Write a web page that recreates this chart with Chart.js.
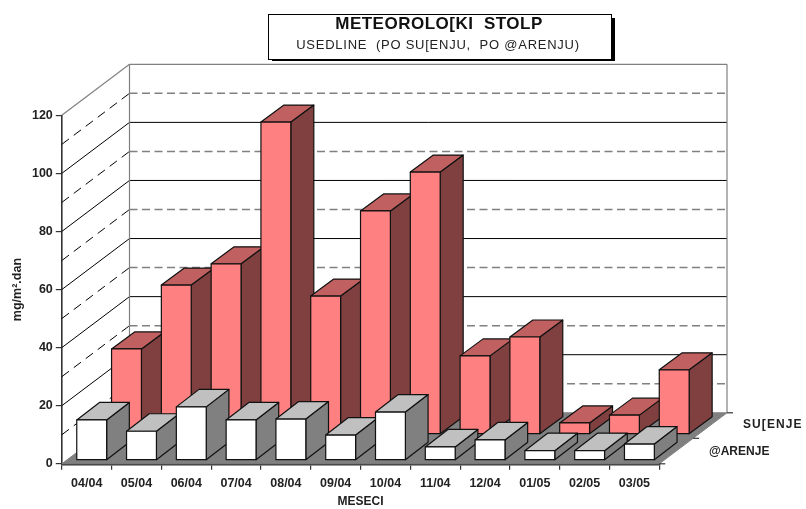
<!DOCTYPE html>
<html>
<head>
<meta charset="utf-8">
<title>Meteorološki stolp</title>
<script src="https://cdn.jsdelivr.net/npm/chart.js@4/dist/chart.umd.min.js"></script>
<style>
  html, body { margin: 0; padding: 0; background: #fff; }
  canvas { display: block; }
</style>
</head>
<body>
<canvas id="graf" width="806" height="509"></canvas>
<script>
// Podatki
const meseci = ['04/04', '05/04', '06/04', '07/04', '08/04', '09/04', '10/04', '11/04', '12/04', '01/05', '02/05', '03/05'];
const zarenje = [13.9, 10, 18.4, 13.9, 14.2, 8.7, 16.6, 4.6, 7, 3.3, 3.3, 5.6];
const susenje = [29.4, 51.4, 58.7, 107.5, 47.6, 76.9, 90.3, 27, 33.5, 3.9, 6.6, 22.2];
const vrste = ['@ARENJE', 'SU[ENJE'];
const naslov = 'METEOROLO[KI  STOLP';
const podnaslov = 'USEDLINE  (PO SU[ENJU,  PO @ARENJU)';

// Globina 3D pogleda
const GLOBINA_X = 67.7;
const GLOBINA_Y = 51;
const PISAVA = "'Liberation Sans', Arial, sans-serif";

// Za vsako vrsto: zamik stolpca v globino in barve ploskev
const stolpci3d = [
    { zx: 5, zy: 3.5, dx: 22.7, dy: 17.5, spredaj: '#ffffff', vrh: '#c0c0c0', bok: '#808080' },
    { zx: 39.8, zy: 29.5, dx: 23, dy: 17, spredaj: '#ff8080', vrh: '#c06060', bok: '#804040' }
];

function lik(ctx, tocke, polnilo) {
    ctx.beginPath();
    tocke.forEach((t, i) => i ? ctx.lineTo(t[0], t[1]) : ctx.moveTo(t[0], t[1]));
    ctx.closePath();
    if (polnilo) {
        ctx.fillStyle = polnilo;
        ctx.fill();
    }
    ctx.stroke();
}

function crta(ctx, x1, y1, x2, y2, barva, debelina, crtkano) {
    ctx.save();
    ctx.strokeStyle = barva;
    ctx.lineWidth = debelina;
    ctx.setLineDash(crtkano || []);
    ctx.beginPath();
    ctx.moveTo(x1, y1);
    ctx.lineTo(x2, y2);
    ctx.stroke();
    ctx.restore();
}

// Stene, tla, oznake globine in naslov
const ozadje3d = {
    id: 'ozadje3d',
    beforeDatasetsDraw(chart) {
        const ctx = chart.ctx;
        const a = chart.chartArea;
        const y = chart.scales.y;
        const levoZ = a.left + GLOBINA_X;
        const desnoZ = a.right + GLOBINA_X;

        // tla
        ctx.save();
        ctx.strokeStyle = '#808080';
        ctx.lineWidth = 1;
        lik(ctx, [[a.left, a.bottom], [a.right, a.bottom], [desnoZ, a.bottom - GLOBINA_Y], [levoZ, a.bottom - GLOBINA_Y]], '#808080');
        ctx.restore();

        // mreza: polne crte na oznakah, crtkane vmes
        const oznake = y.ticks.map(t => t.value);
        oznake.forEach((v, i) => {
            const py = y.getPixelForValue(v);
            if (i > 0 && i < oznake.length - 1) {
                crta(ctx, a.left, py, levoZ, py - GLOBINA_Y, '#000', 1);
                crta(ctx, levoZ, py - GLOBINA_Y, desnoZ, py - GLOBINA_Y, '#000', 1);
            }
            if (i < oznake.length - 1) {
                const sr = y.getPixelForValue((v + oznake[i + 1]) / 2);
                crta(ctx, a.left, sr, levoZ, sr - GLOBINA_Y, '#000', 1, [9, 6]);
                crta(ctx, levoZ, sr - GLOBINA_Y, desnoZ, sr - GLOBINA_Y, '#808080', 1.5, [8, 4.5]);
            }
        });

        // robovi sten
        crta(ctx, a.left, a.top, levoZ, a.top - GLOBINA_Y, '#808080', 1.2);
        crta(ctx, levoZ, a.top - GLOBINA_Y, desnoZ, a.top - GLOBINA_Y, '#808080', 1.2);
        crta(ctx, levoZ, a.top - GLOBINA_Y, levoZ, a.bottom - GLOBINA_Y, '#808080', 1.2);
        crta(ctx, desnoZ, a.top - GLOBINA_Y, desnoZ, a.bottom - GLOBINA_Y, '#808080', 1.2);

        // os globine
        crta(ctx, a.right, a.bottom, a.right + 6, a.bottom, '#333', 1.2);
        crta(ctx, a.right + GLOBINA_X / 2, a.bottom - GLOBINA_Y / 2, a.right + GLOBINA_X / 2 + 6, a.bottom - GLOBINA_Y / 2, '#333', 1.2);
        crta(ctx, desnoZ, a.bottom - GLOBINA_Y, desnoZ + 6, a.bottom - GLOBINA_Y, '#333', 1.2);

        ctx.save();
        ctx.fillStyle = '#222';
        ctx.font = 'bold 12px ' + PISAVA;
        ctx.textBaseline = 'middle';
        ctx.textAlign = 'left';
        ctx.letterSpacing = '1.1px';
        ctx.fillText(vrste[1], 743, 425);
        ctx.letterSpacing = '0px';
        ctx.fillText(vrste[0], 709, 451.5);
        ctx.restore();

        // naslov v okvirju s senco
        ctx.save();
        ctx.fillStyle = '#000';
        ctx.fillRect(272, 18, 343, 43);
        ctx.fillStyle = '#fff';
        ctx.strokeStyle = '#000';
        ctx.lineWidth = 1;
        ctx.fillRect(268.5, 14.5, 343, 45);
        ctx.strokeRect(268.5, 14.5, 343, 45);
        ctx.fillStyle = '#111';
        ctx.textAlign = 'center';
        ctx.textBaseline = 'middle';
        ctx.font = 'bold 17px ' + PISAVA;
        ctx.letterSpacing = '0.5px';
        ctx.fillText(naslov, 439, 24.5);
        ctx.font = '13px ' + PISAVA;
        ctx.letterSpacing = '0.75px';
        ctx.fillStyle = '#222';
        ctx.fillText(podnaslov, 438, 45.5);
        ctx.restore();
    },
    // namesto ravnih stolpcev risemo kvadre
    beforeDatasetDraw(chart, args) {
        const ctx = chart.ctx;
        const s = stolpci3d[args.index];
        ctx.save();
        ctx.strokeStyle = '#111';
        ctx.lineWidth = 1.2;
        ctx.lineJoin = 'round';
        args.meta.data.forEach(bar => {
            const l = bar.x - bar.width / 2 + s.zx;
            const d = bar.x + bar.width / 2 + s.zx;
            const g = bar.y - s.zy;
            const b = bar.base - s.zy;
            lik(ctx, [[d, b], [d + s.dx, b - s.dy], [d + s.dx, g - s.dy], [d, g]], s.bok);
            lik(ctx, [[l, g], [d, g], [d + s.dx, g - s.dy], [l + s.dx, g - s.dy]], s.vrh);
            lik(ctx, [[l, b], [d, b], [d, g], [l, g]], s.spredaj);
        });
        ctx.restore();
        return false;
    }
};

new Chart(document.getElementById('graf'), {
    type: 'bar',
    data: {
        labels: meseci,
        datasets: [
            { label: vrste[0], data: zarenje },
            { label: vrste[1], data: susenje }
        ]
    },
    options: {
        responsive: false,
        animation: false,
        layout: { padding: { top: 115.3, right: 146.7, left: 0, bottom: 0 } },
        datasets: { bar: { grouped: false, barPercentage: 0.6, categoryPercentage: 1 } },
        plugins: { legend: { display: false }, tooltip: { enabled: false } },
        scales: {
            x: {
                afterFit(scale) { scale.height = 45.2; },
                grid: { drawOnChartArea: false, tickLength: 6, color: '#333', lineWidth: 1.2 },
                border: { color: '#333', width: 2.5 },
                ticks: { color: '#222', maxRotation: 0, padding: 6, font: { family: PISAVA, size: 12.5, weight: 'bold' } },
                title: { display: true, text: 'MESECI', color: '#222', padding: { top: 7, bottom: 0 }, font: { family: PISAVA, size: 12, weight: 'bold' } }
            },
            y: {
                min: 0,
                max: 120,
                afterFit(scale) { scale.width = 61.8; },
                grid: { drawOnChartArea: false, tickLength: 6, color: '#333', lineWidth: 1.2 },
                border: { color: '#333', width: 1.6 },
                ticks: { stepSize: 20, color: '#222', padding: 3, font: { family: PISAVA, size: 12.5, weight: 'bold' } },
                title: { display: true, text: 'mg/m².dan', color: '#222', padding: { top: 10, bottom: 0 }, font: { family: PISAVA, size: 12.5, weight: 'bold' } }
            }
        }
    },
    plugins: [ozadje3d]
});
</script>
</body>
</html>
